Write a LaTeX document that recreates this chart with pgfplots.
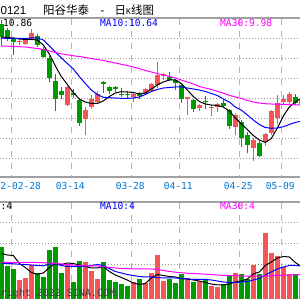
\documentclass[border=0pt]{standalone}
\usepackage{pgfplots}
\pgfplotsset{compat=1.18}
\usepackage{pgfplotstable}
\usepackage{fontspec}
\setmainfont{Liberation Sans}
\newfontfamily\mono{DejaVu Sans Mono}
\newfontfamily\cjk{Noto Sans CJK SC}
\definecolor{upred}{RGB}{245,85,85}
\definecolor{dngreen}{RGB}{0,155,0}
\definecolor{maBlue}{RGB}{0,0,255}
\definecolor{maMag}{RGB}{255,0,255}
\definecolor{dateblue}{RGB}{0,120,210}
\definecolor{gridc}{RGB}{180,180,180}
\definecolor{dotc}{RGB}{150,150,150}
\definecolor{framec}{RGB}{160,160,160}

% rising candles: index, open, high, low, close, volume
\pgfplotstableread{
j o h l c v
1 135 138 132 136 18.3
2 133 139 132 137 20
3 138 148 137 144 33.3
9 72 91 71 90 33.3
12 58 70 42 67 36
13 70 82 68 78 27.3
14 75 86 74 83 19.3
20 79.5 85 74.5 83 16.7
22 83 88.5 82 87.5 15.7
23 85.5 93.5 85 92.5 25
24 92 115 89 101.5 43.3
25 100.5 104 97 102.5 17.3
29 77.5 80 62 79.5 20
31 69 73 66 72 17
33 68.5 72 60.5 69.5 12.3
34 69.5 73.5 65 72.5 11
37 50 64 42 61.5 25
40 29 39 16 36.5 33.3
42 34.5 44 31 43 65
43 44 67 42 66 45
44 59 82 53 74 42.5
45 74.5 82 72 77.5 31.7
46 75 85 73 83 24
48 72 80 70 78 19.5
}\upc

% falling candles: index, open, high, low, close, volume
\pgfplotstableread{
j o h l c v
-2 153 157 131 140 51
-1 147 149 136 138 32.3
0 139 140 122 135 29
4 141 143 130 132 25.7
5 128 130 119 120 21
6 119 121 95 99 48.3
7 96 103 66 78 51.7
8 86 90 78 82 25
10 84 88 79 82 16.7
11 77 79 51 54 37.3
15 94.5 96 84 93 36
16 90 91 83 86 18.3
17 89.5 91 85 87.5 16
18 83 89 80 82 14
19 83 86 79 82 12.3
21 84 85 78 81 19.3
26 99.5 105 96 97 19
27 96.5 97.5 87 94 15
28 92 93 74 77.5 24
30 77 78 65 67.5 16
32 76 81 68 74.5 19.3
35 74 77 70 71 14.5
36 67 68 48 50.5 22
38 55 57 30 38.5 24
39 41.5 45 24 31.5 19.3
41 34 37 20 20.5 24
47 79.5 83 72 74 24
}\dnc

% moving averages: price MA5/10/30 and volume MA5/10/30
\pgfplotstableread{
j m5 m10 m30 v5 v10 v30
-2 140 139 131 45 35 36
-1 139.5 138.5 130.8 43.5 35 36
0 139 138.5 130.5 43 34.7 36
1 138 138.5 130.3 35 34.3 36
2 137.5 138.5 130 31 34 36
3 137.5 139 129.2 26 33.5 36
4 137 139 128.5 24.3 33 36
5 132 137 127.5 25.5 32.7 35.7
6 123 131 126 31 34.5 35.5
7 111 125 124.5 35 34.5 35
8 100.5 119 123.2 34 33 34.5
9 92.5 113.5 122.2 35.5 32 34
10 84.5 108 121.2 35 32 33.5
11 78 100.5 120.5 33.5 32 33
12 75 93.5 119.5 32 32.3 32.5
13 73.5 87 118.5 30.5 33 32.5
14 73.5 82.5 117.5 30.5 34 32.5
15 76 79.7 116.5 32 33 32
16 80.5 79.3 115.3 27 30 31
17 84 79 114 23.5 27 30.5
18 85.3 78.7 112.7 21 25.5 30
19 85 78.7 111.5 18.5 24 29.8
20 84.5 79 110 15.5 23 29.7
21 83 80 108.3 14 22 29.6
22 84 82.5 106.7 15 21.5 29.5
23 88 85.5 105 20.5 21.5 29.5
24 92 87.5 103.5 24 21 29
25 95 89 102 23 20.5 28
26 97 89.5 100.5 22 20.5 27
27 97 90 99 21.5 20.5 26.3
28 93.5 90 97 20 20 25.8
29 87 89 95 19.5 19.5 25.3
30 80.5 88 93 18.5 19 25
31 75.5 87 90.5 17.5 19 24.7
32 73 85.5 89 16 19 24.3
33 72 83.5 87.5 14.5 18.5 24
34 71.5 81.5 85.7 13.5 17.5 23.5
35 70 78 83.7 13.5 16.5 23.2
36 66 75 81.7 14.5 16 23
37 59 70 80 16.5 16 22.8
38 53 67 78.5 17.5 16.5 22.5
39 47.5 62 76.5 19.5 17 22.3
40 41.5 57 75 24.5 18.5 22.3
41 37 52.5 74 26.5 20 22.3
42 34.5 49.5 73.3 33 23.5 22.5
43 38.5 48.7 73 36.5 26.5 22.7
44 49 49 72.8 40.5 29.5 23
45 61 50.3 72.7 42 31.5 23.3
46 70 52.5 72.5 41.5 33 23.5
47 75 54.5 72.2 36 33 23.8
48 79 56 72 32 32.5 24
}\mas

\begin{document}
\begin{tikzpicture}[x=1pt,y=1pt]
\useasboundingbox (0,0) rectangle (300,300);
\fill[white] (0,0) rectangle (300,300);
% dotted horizontal grid
\foreach \yy in {262,242,222,202,182,162,142,78,57,36}
  \draw[dotc, line width=0.9pt, dash pattern=on 1pt off 2pt] (0,\yy) -- (300,\yy);
% dashed vertical grid
\foreach \xx in {11.33,71.33,131.33,179.33,239.33,281.33} {
  \draw[gridc, line width=1.4pt, dash pattern=on 6pt off 6pt] (\xx,281) -- (\xx,124);
  \draw[gridc, line width=1.4pt, dash pattern=on 6pt off 6pt] (\xx,97) -- (\xx,14);
}
% panel frame lines
\draw[framec, line width=1.5pt] (0,282) -- (300,282);
\draw[framec, line width=1.5pt] (0,123) -- (300,123);
\draw[framec, line width=1.5pt] (0,98) -- (300,98);

% price panel
\begin{axis}[at={(0,123)}, anchor=south west, scale only axis,
  width=300pt, height=159pt, xmin=-2.2222, xmax=47.7778, ymin=0, ymax=159,
  axis line style={draw=none}, ticks=none, clip=true]
\addplot[draw=none, forget plot, error bars/.cd, y dir=plus, y explicit, error mark=none,
  error bar style={draw=upred, line width=1pt}]
  table[x=j, y=l, y error expr=\thisrow{h}-\thisrow{l}] {\upc};
\addplot[draw=none, forget plot, error bars/.cd, y dir=plus, y explicit, error mark=none,
  error bar style={draw=upred, line width=5pt}]
  table[x=j, y=o, y error expr=\thisrow{c}-\thisrow{o}] {\upc};
\addplot[draw=none, forget plot, error bars/.cd, y dir=plus, y explicit, error mark=none,
  error bar style={draw=dngreen, line width=1pt}]
  table[x=j, y=l, y error expr=\thisrow{h}-\thisrow{l}] {\dnc};
\addplot[draw=none, forget plot, error bars/.cd, y dir=plus, y explicit, error mark=none,
  error bar style={draw=dngreen, line width=5pt}]
  table[x=j, y=c, y error expr=\thisrow{o}-\thisrow{c}] {\dnc};
\addplot[black, line width=1pt, mark=none] table[x=j, y=m5] {\mas};
\addplot[maBlue, line width=1pt, mark=none] table[x=j, y=m10] {\mas};
\addplot[maMag, line width=1pt, mark=none] table[x=j, y=m30] {\mas};
\end{axis}

% volume panel
\begin{axis}[at={(0,15)}, anchor=south west, scale only axis,
  width=300pt, height=83pt, xmin=-2.2222, xmax=47.7778, ymin=0, ymax=83,
  axis line style={draw=none}, ticks=none, clip=true]
\addplot[ycomb, draw=upred, line width=5pt, mark=none] table[x=j, y=v] {\upc};
\addplot[ycomb, draw=dngreen, line width=5pt, mark=none] table[x=j, y=v] {\dnc};
\addplot[black, line width=1pt, mark=none] table[x=j, y=v5] {\mas};
\addplot[maBlue, line width=1pt, mark=none] table[x=j, y=v10] {\mas};
\addplot[maMag, line width=1pt, mark=none] table[x=j, y=v30] {\mas};
\end{axis}

% header
\node[anchor=base west, inner sep=0, font=\fontsize{11.5}{12}\selectfont] at (0.5,285) {0121};
\node[anchor=base west, inner sep=0, font=\fontsize{11.5}{12}\selectfont] at (43,285.5) {\cjk 阳谷华泰};
\node[anchor=base, inner sep=0, font=\fontsize{11.5}{12}\selectfont] at (102.5,285.5) {-};
\node[anchor=base west, inner sep=0, font=\fontsize{11.5}{12}\selectfont] at (114.5,285.5) {\cjk 日{\mono\fontsize{8}{8}\selectfont K}线图};

% legends
\begin{scope}[every node/.style={anchor=base west, inner sep=0, font=\mono\fontsize{9.6}{10}\selectfont}]
\node[black] at (3,273.3) {10.86};
\node[maBlue] at (100,273.3) {MA10:10.64};
\node[maMag] at (220,273.3) {MA30:9.98};
\node[black] at (0.5,90) {:4};
\node[maBlue] at (100,90) {MA10:4};
\node[maMag] at (220,90) {MA30:4};
\end{scope}

% date labels
\begin{scope}[every node/.style={anchor=base, inner sep=0, text=dateblue, font=\mono\fontsize{9.6}{10}\selectfont}]
\node[anchor=base west] at (0.3,110.7) {2-02-28};
\node at (70.3,110.7) {03-14};
\node at (130.3,110.7) {03-28};
\node at (178.3,110.7) {04-11};
\node at (238.3,110.7) {04-25};
\node at (280.3,110.7) {05-09};
\end{scope}

% copyright
\node[anchor=base west, inner sep=0, text=black!75, font=\mono\fontsize{10}{11}\selectfont] at (0.5,4) {right 2022 SINA.COM};
\end{tikzpicture}
\end{document}
